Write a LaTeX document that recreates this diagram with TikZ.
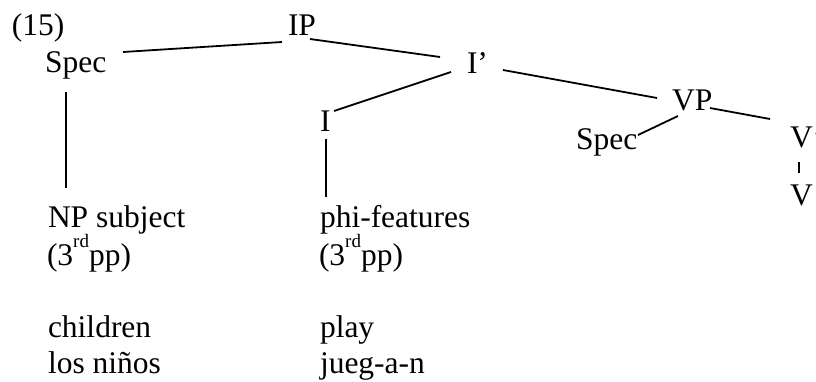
\documentclass[tikz,border=0pt]{standalone}
\usepackage{fontspec}
\setmainfont{Liberation Serif}
\newcommand{\myrd}{\raisebox{18pt}{\fontsize{19}{19}\selectfont rd}}
\begin{document}
\begin{tikzpicture}[x=1pt,y=-1pt,
  lbl/.style={anchor=base west,inner sep=0pt,outer sep=0pt,font=\fontsize{31.5}{36}\selectfont},
  edge/.style={line width=1.8pt}]
\useasboundingbox (0,0) rectangle (816,381);
\node[lbl] (ex) at (12,35) {(15)};
\node[lbl] (ip) at (288,35) {IP};
\node[lbl] (spec1) at (45,72) {Spec};
\node[lbl] (ibar) at (467,73) {I’};
\node[lbl] (i) at (320,131) {I};
\node[lbl] (vp) at (672,110) {VP};
\node[lbl] (spec2) at (576,149) {Spec};
\node[lbl] (vbar) at (790,147) {V’};
\node[lbl] (v) at (790,205) {V};
\node[lbl] (np) at (48,227) {NP subject};
\node[lbl] (np2) at (47,265) {(3\myrd pp)};
\node[lbl] (phi) at (320,227) {phi-features};
\node[lbl] (phi2) at (319,265) {(3\myrd pp)};
\node[lbl] (ch) at (48,337) {children};
\node[lbl] (ln) at (48,373) {los niños};
\node[lbl] (pl) at (320,337) {play};
\node[lbl] (jg) at (320,373) {jueg-a-n};
\draw[edge] ([shift={(78,-20)}]spec1.base west) -- ([shift={(-6,7)}]ip.base west);
\draw[edge] ([shift={(22,4)}]ip.base west) -- ([shift={(-27,-16)}]ibar.base west);
\draw[edge] ([shift={(-16,-1)}]ibar.base west) -- ([shift={(14,-20)}]i.base west);
\draw[edge] ([shift={(36,-3)}]ibar.base west) -- ([shift={(-15,-12)}]vp.base west);
\draw[edge] ([shift={(6,6)}]vp.base west) -- ([shift={(62,-14)}]spec2.base west);
\draw[edge] ([shift={(38,-2)}]vp.base west) -- ([shift={(-20,-28)}]vbar.base west);
\draw[edge] ([shift={(9,15)}]vbar.base west) -- ([shift={(9,-32)}]v.base west);
\draw[edge] ([shift={(21,20)}]spec1.base west) -- ([shift={(18,-39)}]np.base west);
\draw[edge] ([shift={(6,8)}]i.base west) -- ([shift={(6,-30)}]phi.base west);
\end{tikzpicture}
\end{document}
